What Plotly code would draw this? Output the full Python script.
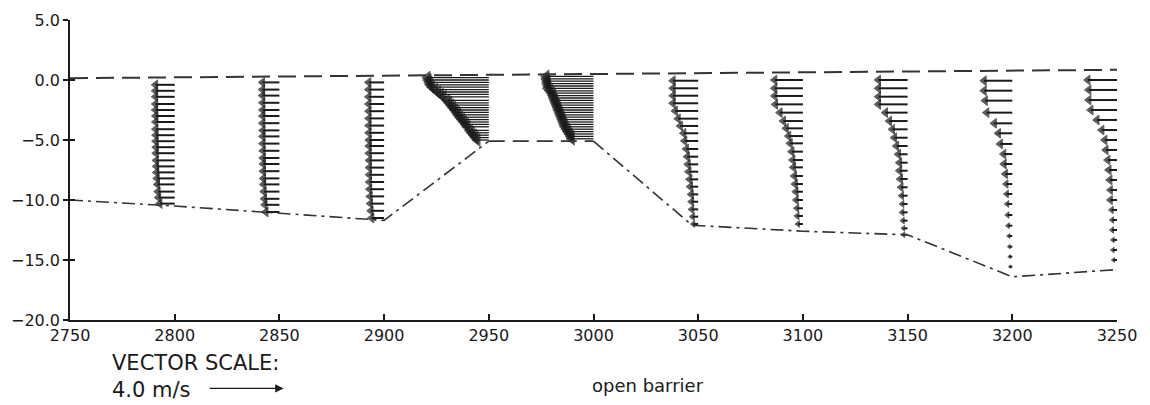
import plotly.graph_objects as go

# ---------------- data ----------------
x_ticks = [2750, 2800, 2850, 2900, 2950, 3000, 3050, 3100, 3150, 3200, 3250]
y_ticks = [5.0, 0.0, -5.0, -10.0, -15.0, -20.0]

surface_x = [2750, 3250]
surface_y = [0.15, 0.85]

bed_x = [2750, 2800, 2850, 2900, 2950, 3000, 3047, 3100, 3150, 3200, 3250]
bed_y = [-10.0, -10.5, -11.1, -11.7, -5.1, -5.1, -12.1, -12.6, -12.9, -16.4, -15.8]

stations = [2800, 2850, 2900, 2950, 3000, 3050, 3100, 3150, 3200, 3250]

depth_2800 = [-0.4, -0.9, -1.4, -2.0, -2.5, -3.0, -3.5, -4.1, -4.6, -5.1,
              -5.6, -6.1, -6.7, -7.2, -7.7, -8.2, -8.7, -9.3, -9.8, -10.3]
u_2800 = [-1.28, -1.28, -1.28, -1.28, -1.28, -1.27, -1.27, -1.27, -1.26, -1.26,
          -1.25, -1.25, -1.24, -1.23, -1.22, -1.20, -1.18, -1.15, -1.12, -1.05]

depth_2850 = [-0.2, -0.8, -1.3, -1.9, -2.5, -3.0, -3.6, -4.2, -4.7, -5.3,
              -5.9, -6.5, -7.0, -7.6, -8.2, -8.7, -9.3, -9.9, -10.4, -11.0]
u_2850 = [-1.16, -1.16, -1.16, -1.15, -1.15, -1.15, -1.15, -1.14, -1.14, -1.14,
          -1.13, -1.13, -1.12, -1.12, -1.11, -1.10, -1.08, -1.06, -1.03, -0.98]

depth_2900 = [-0.2, -0.8, -1.4, -2.0, -2.6, -3.2, -3.8, -4.4, -5.0, -5.5,
              -6.1, -6.7, -7.3, -7.9, -8.5, -9.1, -9.7, -10.3, -10.9, -11.5]
u_2900 = [-1.08, -1.08, -1.08, -1.08, -1.07, -1.07, -1.07, -1.07, -1.06, -1.06,
          -1.06, -1.05, -1.05, -1.04, -1.04, -1.03, -1.01, -0.99, -0.96, -0.92]

depth_2950 = [0.2, 0.0, -0.2, -0.4, -0.6, -0.8, -1.0, -1.2, -1.4, -1.7,
              -1.9, -2.1, -2.3, -2.5, -2.7, -2.9, -3.1, -3.3, -3.5, -3.7,
              -3.9, -4.2, -4.4, -4.6, -4.8, -5.0]
u_2950 = [-3.60, -3.55, -3.50, -3.45, -3.35, -3.20, -3.05, -2.90, -2.75, -2.55,
          -2.45, -2.35, -2.25, -2.15, -2.05, -1.97, -1.87, -1.77, -1.67, -1.57,
          -1.48, -1.35, -1.25, -1.15, -1.05, -0.95]

depth_3000 = [0.3, 0.1, -0.1, -0.3, -0.5, -0.7, -0.9, -1.1, -1.3, -1.5,
              -1.7, -1.9, -2.1, -2.3, -2.5, -2.7, -2.9, -3.1, -3.3, -3.5,
              -3.7, -3.9, -4.1, -4.3, -4.5, -4.7, -4.9]
u_3000 = [-2.85, -2.85, -2.80, -2.80, -2.75, -2.75, -2.65, -2.55, -2.50, -2.45,
          -2.40, -2.35, -2.30, -2.25, -2.20, -2.15, -2.10, -2.05, -2.00, -1.95,
          -1.90, -1.85, -1.78, -1.70, -1.62, -1.55, -1.50]

depth_3050 = [-0.06, -0.69, -1.31, -1.94, -2.58, -3.22, -3.83, -4.44, -5.08, -5.75,
              -6.39, -7.03, -7.64, -8.28, -8.89, -9.53, -10.14, -10.78, -11.39, -12.0]
u_3050 = [-1.60, -1.60, -1.60, -1.60, -1.48, -1.33, -1.21, -1.03, -0.98, -0.89,
          -0.84, -0.80, -0.76, -0.71, -0.68, -0.62, -0.59, -0.57, -0.50, -0.44]

depth_3100 = [0.0, -0.69, -1.33, -2.03, -2.72, -3.42, -4.03, -4.67, -5.28, -5.97,
              -6.67, -7.28, -8.0, -8.67, -9.31, -10.0, -10.69, -11.33, -12.0]
u_3100 = [-1.76, -1.76, -1.76, -1.72, -1.48, -1.30, -1.15, -1.02, -0.94, -0.85,
          -0.80, -0.76, -0.71, -0.67, -0.62, -0.59, -0.53, -0.50, -0.44]

depth_3150 = [0.0, -0.69, -1.39, -2.03, -2.72, -3.42, -4.11, -4.81, -5.5, -6.19,
              -6.89, -7.56, -8.25, -8.94, -9.64, -10.33, -11.03, -11.72, -12.36, -12.9]
u_3150 = [-1.81, -1.81, -1.81, -1.81, -1.44, -1.23, -1.07, -0.96, -0.85, -0.75,
          -0.69, -0.69, -0.64, -0.59, -0.53, -0.48, -0.48, -0.43, -0.37, -0.37]

depth_3200 = [-0.06, -0.89, -1.72, -2.72, -3.61, -4.44, -5.33, -6.17, -7.0, -7.83,
              -8.67, -9.5, -10.33, -11.25, -12.14, -13.0, -13.89, -14.72, -15.56]
u_3200 = [-1.76, -1.76, -1.70, -1.62, -1.22, -1.00, -0.90, -0.72, -0.70, -0.62,
          -0.55, -0.50, -0.45, -0.42, -0.38, -0.32, -0.28, -0.25, -0.22]

depth_3250 = [0.0, -0.83, -1.67, -2.5, -3.33, -4.17, -5.0, -5.83, -6.67, -7.5,
              -8.33, -9.17, -10.0, -10.83, -11.67, -12.5, -13.33, -14.17, -15.0]
u_3250 = [-1.81, -1.76, -1.76, -1.65, -1.33, -1.07, -0.91, -0.85, -0.75, -0.69,
          -0.64, -0.59, -0.59, -0.48, -0.43, -0.43, -0.37, -0.37, -0.32]

profiles = [
    (2800, depth_2800, u_2800), (2850, depth_2850, u_2850), (2900, depth_2900, u_2900),
    (2950, depth_2950, u_2950), (3000, depth_3000, u_3000), (3050, depth_3050, u_3050),
    (3100, depth_3100, u_3100), (3150, depth_3150, u_3150), (3200, depth_3200, u_3200),
    (3250, depth_3250, u_3250),
]
dense_stations = [2950, 3000]

scale_speed = 4.0          # m/s shown by the legend arrow
# ---------------- style ----------------
VEC_SCALE = 9.0            # x-units per m/s
X_RANGE = [2750, 3250]
Y_RANGE = [-20, 5]
# page body has an 8px margin; compensate so the plot area sits at 70..1117 x 20..320
M_L, M_R, M_T, M_B = 62, 33, 12, 85
W, H = 1142, 397
PX_PER_X = (W - M_L - M_R) / (X_RANGE[1] - X_RANGE[0])
INK = "#1a1a1a"
FONT = "DejaVu Sans"

fig = go.Figure()


def add_vectors(prof_list, shaft_w, head_max):
    sx, sy, hx, hy, hs = [], [], [], [], []
    for st, depths, us in prof_list:
        for z, u in zip(depths, us):
            tip = st + u * VEC_SCALE
            len_px = abs(u) * VEC_SCALE * PX_PER_X
            size = min(head_max, max(3.0, len_px * 0.7))
            hc = tip + 0.577 * size / PX_PER_X
            sx += [st, hc, None]
            sy += [z, z, None]
            hx.append(hc)
            hy.append(z)
            hs.append(size)
    fig.add_trace(go.Scatter(x=sx, y=sy, mode="lines",
                             line=dict(color=INK, width=shaft_w),
                             hoverinfo="skip", showlegend=False))
    fig.add_trace(go.Scatter(x=hx, y=hy, mode="markers",
                             marker=dict(symbol="triangle-left", size=hs, color=INK,
                                         line=dict(width=1, color=INK)),
                             hoverinfo="skip", showlegend=False))


normal = [p for p in profiles if p[0] not in dense_stations]
dense = [p for p in profiles if p[0] in dense_stations]
add_vectors(normal, 2.0, 8.5)
add_vectors(dense, 1.3, 11.0)

# water surface
fig.add_trace(go.Scatter(x=surface_x, y=surface_y, mode="lines",
                         line=dict(color="#333333", width=2, dash="18px,8px"),
                         hoverinfo="skip", showlegend=False))
# bed profile
fig.add_trace(go.Scatter(x=bed_x[:5], y=bed_y[:5], mode="lines",
                         line=dict(color="#333333", width=1.6, dash="13px,5px,3px,5px"),
                         hoverinfo="skip", showlegend=False))
fig.add_trace(go.Scatter(x=bed_x[4:6], y=bed_y[4:6], mode="lines",
                         line=dict(color="#333333", width=1.8, dash="16px,8px"),
                         hoverinfo="skip", showlegend=False))
fig.add_trace(go.Scatter(x=bed_x[5:], y=bed_y[5:], mode="lines",
                         line=dict(color="#333333", width=1.6, dash="13px,5px,3px,5px"),
                         hoverinfo="skip", showlegend=False))
# dummy trace for inner tick overlay
fig.add_trace(go.Scatter(x=[None], y=[None], yaxis="y2", showlegend=False,
                         hoverinfo="skip"))

fig.update_layout(
    width=W, height=H,
    margin=dict(l=M_L, r=M_R, t=M_T, b=M_B, autoexpand=False),
    paper_bgcolor="white", plot_bgcolor="white",
    showlegend=False,
    font=dict(family=FONT, color=INK, size=16),
    xaxis=dict(range=X_RANGE, tickvals=x_ticks, ticks="inside", ticklen=6,
               tickwidth=1.5, tickcolor=INK, showline=True, linewidth=1.5,
               linecolor=INK, showgrid=False, zeroline=False, automargin=False,
               tickfont=dict(family=FONT, size=16, color=INK)),
    yaxis=dict(range=Y_RANGE, tickvals=y_ticks, tickformat=".1f", ticks="outside",
               ticklen=5, tickwidth=1.5, tickcolor=INK, showline=True,
               linewidth=1.5, linecolor=INK, showgrid=False, zeroline=False,
               automargin=False,
               tickfont=dict(family=FONT, size=16, color=INK)),
    yaxis2=dict(range=Y_RANGE, tickvals=y_ticks, overlaying="y", side="left",
                ticks="inside", ticklen=5, tickwidth=1.5, tickcolor=INK,
                showticklabels=False, showline=False, showgrid=False,
                zeroline=False, automargin=False),
)

# vector scale legend
fig.add_annotation(text="VECTOR SCALE:", xref="paper", yref="paper",
                   x=0.038, y=-0.143, xanchor="left", yanchor="middle",
                   showarrow=False, font=dict(family=FONT, size=21, color=INK))
fig.add_annotation(text="4.0 m/s", xref="paper", yref="paper",
                   x=0.038, y=-0.232, xanchor="left", yanchor="middle",
                   showarrow=False, font=dict(family=FONT, size=21, color=INK))
scale_start = 2816
fig.add_annotation(x=scale_start + scale_speed * VEC_SCALE, y=-0.228,
                   xref="x", yref="paper", ax=scale_start, ay=0,
                   axref="x", ayref="pixel", text="", showarrow=True,
                   arrowhead=2, arrowsize=1.4, arrowwidth=1.2, arrowcolor=INK)
fig.add_annotation(text="open barrier", xref="paper", yref="paper",
                   x=0.552, y=-0.217, xanchor="center", yanchor="middle",
                   showarrow=False, font=dict(family=FONT, size=18, color=INK))

fig.write_html("out.html")
